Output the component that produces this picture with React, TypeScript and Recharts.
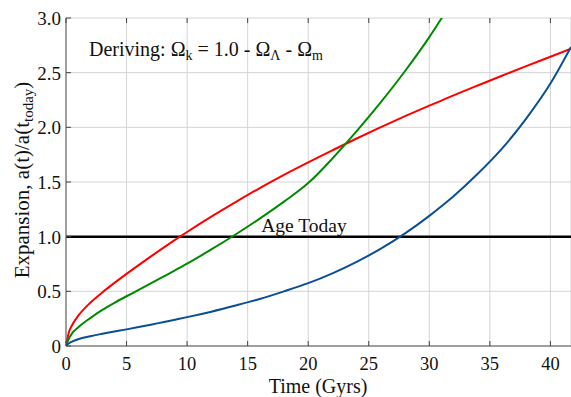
import React from "react";
import {
  LineChart,
  Line,
  XAxis,
  YAxis,
  CartesianGrid,
  ReferenceLine,
  Label,
} from "recharts";

const times = [0, 0.25, 0.5, 1, 2, 3, 4, 5, 6, 7, 8, 9, 10, 12, 14, 16, 18, 20, 22, 24, 26, 28, 30, 31, 32, 34, 36, 38, 40, 41.7];
const redValues = [0, 0.13, 0.19, 0.275, 0.395, 0.49, 0.577, 0.66, 0.74, 0.818, 0.895, 0.97, 1.043, 1.183, 1.316, 1.445, 1.566, 1.68, 1.79, 1.898, 2.002, 2.102, 2.198, 2.245, 2.292, 2.383, 2.472, 2.56, 2.646, 2.72];
const greenValues = [0, 0.07, 0.115, 0.17, 0.255, 0.33, 0.395, 0.455, 0.513, 0.572, 0.632, 0.692, 0.753, 0.883, 1.02, 1.165, 1.32, 1.49, 1.715, 1.965, 2.23, 2.515, 2.825, 2.995, 3.165, null, null, null, null, null];
const blueValues = [0, 0.025, 0.04, 0.062, 0.09, 0.112, 0.132, 0.152, 0.173, 0.195, 0.218, 0.241, 0.264, 0.314, 0.37, 0.43, 0.5, 0.575, 0.665, 0.77, 0.89, 1.03, 1.19, 1.278, 1.37, 1.575, 1.805, 2.08, 2.4, 2.735];

const xTicks = [0, 5, 10, 15, 20, 25, 30, 35, 40];
const yTicks = [0, 0.5, 1, 1.5, 2, 2.5, 3];

const data = times.map((t, i) => ({
  t,
  red: redValues[i],
  green: greenValues[i],
  blue: blueValues[i],
}));

const font = "'Liberation Serif', 'Times New Roman', serif";
const textStyle = { fontFamily: font };

const XTick = (props: any) => {
  const { x, y, payload } = props;
  return (
    <g>
      <line x1={x} x2={x} y1={346} y2={341} stroke="#444" />
      <line x1={x} x2={x} y1={18} y2={23} stroke="#444" />
      <text x={x} y={y + 22} textAnchor="middle" fontSize={18.5} style={textStyle} fill="#111">
        {payload.value}
      </text>
    </g>
  );
};

const YTick = (props: any) => {
  const { x, y, payload } = props;
  const v = payload.value as number;
  return (
    <g>
      <line x1={66} x2={71} y1={y} y2={y} stroke="#444" />
      <text x={x - 3} y={y + 7} textAnchor="end" fontSize={19} style={textStyle} fill="#111">
        {v === 0 ? "0" : v.toFixed(1)}
      </text>
    </g>
  );
};

const App = () => {
  return (
    <div style={{ position: "absolute", left: 0, top: 0, fontFamily: font }}>
      <LineChart
        width={571}
        height={397}
        data={data}
        margin={{ top: 18, right: 0, bottom: 0, left: 0 }}
      >
        <CartesianGrid stroke="#d4d4d4" strokeWidth={1} />
        <XAxis
          dataKey="t"
          type="number"
          domain={[0, 41.7]}
          ticks={xTicks}
          allowDataOverflow
          height={51}
          tickSize={0}
          tickLine={false}
          tick={(p: any) => <XTick {...p} />}
          stroke="#555"
        >
          <Label
            content={() => (
              <text x={318} y={393} textAnchor="middle" fontSize={20} style={textStyle} fill="#111">
                Time (Gyrs)
              </text>
            )}
          />
        </XAxis>
        <XAxis
          xAxisId="top"
          dataKey="t"
          type="number"
          domain={[0, 41.7]}
          orientation="top"
          height={0}
          tick={false}
          tickLine={false}
          stroke="#555"
        />
        <YAxis
          type="number"
          domain={[0, 3]}
          ticks={yTicks}
          allowDataOverflow
          width={66}
          tickSize={0}
          tickLine={false}
          tick={(p: any) => <YTick {...p} />}
          stroke="#555"
        >
          <Label
            content={() => (
              <text
                x={29}
                y={180}
                transform="rotate(-90 29 180)"
                textAnchor="middle"
                fontSize={21}
                style={textStyle}
                fill="#111"
              >
                Expansion, a(t)/a(t
                <tspan fontSize={15} dy={4}>today</tspan>
                <tspan dy={-4}>)</tspan>
              </text>
            )}
          />
        </YAxis>
        <ReferenceLine y={3} stroke="none">
          <Label
            content={() => (
              <text x={89} y={56} fontSize={20} style={textStyle} fill="#111">
                Deriving: Ω
                <tspan fontSize={14} dy={4}>k</tspan>
                <tspan dy={-4}> = 1.0 - Ω</tspan>
                <tspan fontSize={14} dy={4}>Λ</tspan>
                <tspan dy={-4}> - Ω</tspan>
                <tspan fontSize={14} dy={4}>m</tspan>
              </text>
            )}
          />
        </ReferenceLine>
        <ReferenceLine y={1} stroke="#000" strokeWidth={2.5}>
          <Label
            content={() => (
              <text x={304} y={232} textAnchor="middle" fontSize={19.5} style={textStyle} fill="#111">
                Age Today
              </text>
            )}
          />
        </ReferenceLine>
        <Line type="monotone" dataKey="red" stroke="#ff0000" strokeWidth={2} dot={false} isAnimationActive={false} />
        <Line type="monotone" dataKey="green" stroke="#008a00" strokeWidth={2} dot={false} isAnimationActive={false} />
        <Line type="monotone" dataKey="blue" stroke="#0a4f94" strokeWidth={2} dot={false} isAnimationActive={false} />
      </LineChart>
    </div>
  );
};

export default App;
